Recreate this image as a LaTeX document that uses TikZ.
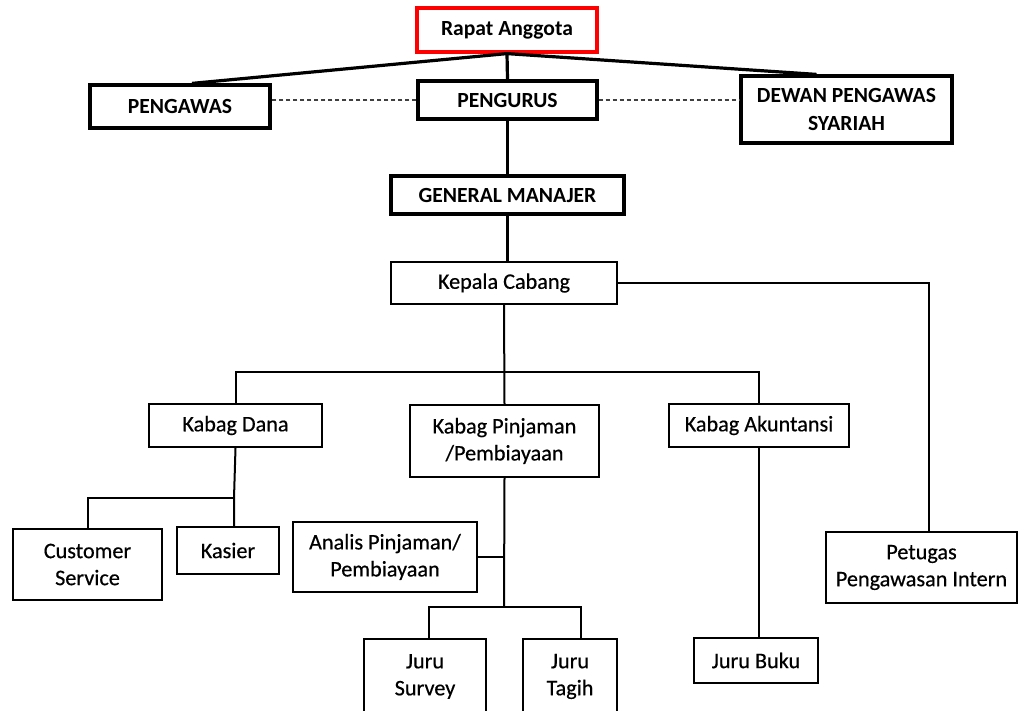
\documentclass[tikz,border=0pt]{standalone}
\usepackage{fontspec}
\setmainfont{Carlito}
\newfontfamily\lowfont{Carlito}[FakeBold=0.5]
\begin{document}
\begin{tikzpicture}[x=1pt,y=-1pt,
  topbox/.style={draw, line width=3.2pt, inner sep=0pt, align=center, font=\bfseries\fontsize{21.6}{28}\selectfont},
  lowbox/.style={draw, line width=2pt, inner sep=0pt, align=center, font=\lowfont\fontsize{22.2}{27}\selectfont},
  thickline/.style={line width=3.2pt},
  thinline/.style={line width=2pt},
  dashline/.style={line width=1.2pt, draw=black!75, dash pattern=on 4pt off 3pt}]
\useasboundingbox (0,0) rectangle (1018,711);
\clip (0,0) rectangle (1018,711);
% top level
\node[topbox, draw=red, minimum width=180, minimum height=44] (ra) at (507,30) {Rapat Anggota};
\node[topbox, minimum width=180, minimum height=43] (pengawas) at (180,106.5) {PENGAWAS};
\node[topbox, minimum width=179, minimum height=38] (pengurus) at (507.5,100) {PENGURUS};
\node[topbox, minimum width=211, minimum height=67] (dewan) at (846.5,109.5) {DEWAN PENGAWAS\\SYARIAH};
\node[topbox, minimum width=233, minimum height=38] (gm) at (507.5,195) {GENERAL MANAJER};
% lower levels
\node[lowbox, minimum width=226, minimum height=42] (kc) at (504,283) {Kepala Cabang};
\node[lowbox, minimum width=173, minimum height=43] (kd) at (235.5,425.5) {Kabag Dana};
\node[lowbox, minimum width=189, minimum height=72] (kp) at (504.5,441) {Kabag Pinjaman\\/Pembiayaan};
\node[lowbox, minimum width=180, minimum height=43] (ka) at (759,425.5) {Kabag Akuntansi};
\node[lowbox, minimum width=149, minimum height=71] (cs) at (87.5,564.5) {Customer\\Service};
\node[lowbox, minimum width=102, minimum height=47] (kas) at (228,550.5) {Kasier};
\node[lowbox, minimum width=184, minimum height=70] (an) at (385,557) {Analis Pinjaman/\\Pembiayaan};
\node[lowbox, minimum width=122, minimum height=75] (js) at (425,676.5) {Juru\\Survey};
\node[lowbox, minimum width=94, minimum height=75] (jt) at (570,676.5) {Juru\\Tagih};
\node[lowbox, minimum width=124, minimum height=45] (jb) at (756,660.5) {Juru Buku};
\node[lowbox, minimum width=191, minimum height=71] (pi) at (921.5,567.5) {Petugas\\Pengawasan Intern};
% coordinates
\coordinate (bus1) at (504,372);
\coordinate (bus2) at (234,498);
\coordinate (bus3) at (504,607);
% top connectors
\draw[thickline] (ra.south) -- ([xshift=12]pengawas.north);
\draw[thickline] (ra.south) -- ([xshift=-30]dewan.north);
\draw[thickline] (ra.south) -- (pengurus.north);
\draw[thickline] (pengurus.south) -- (gm.north);
\draw[thickline] (gm.south) -- (gm.south |- kc.north);
\draw[dashline] (pengurus.west) -- (pengurus.west -| pengawas.east);
\draw[dashline] (pengurus.east) -- (pengurus.east -| dewan.west);
% lower connectors
\draw[thinline] (kc.east) -| ([xshift=7.5]pi.north);
\draw[thinline] (kc.south) -- (kp.north);
\draw[thinline] (kd.north) |- (bus1) -| (ka.north);
\draw[thinline] (kd.south) -- (bus2) -- (kas.north -| bus2);
\draw[thinline] (cs.north) |- (bus2);
\draw[thinline] (kp.south) -- (bus3);
\draw[thinline] (an.east) -- (an.east -| bus3);
\draw[thinline] ([xshift=4]js.north) |- (bus3) -| ([xshift=11]jt.north);
\draw[thinline] (ka.south) -- (ka.south |- jb.north);
\end{tikzpicture}
\end{document}
